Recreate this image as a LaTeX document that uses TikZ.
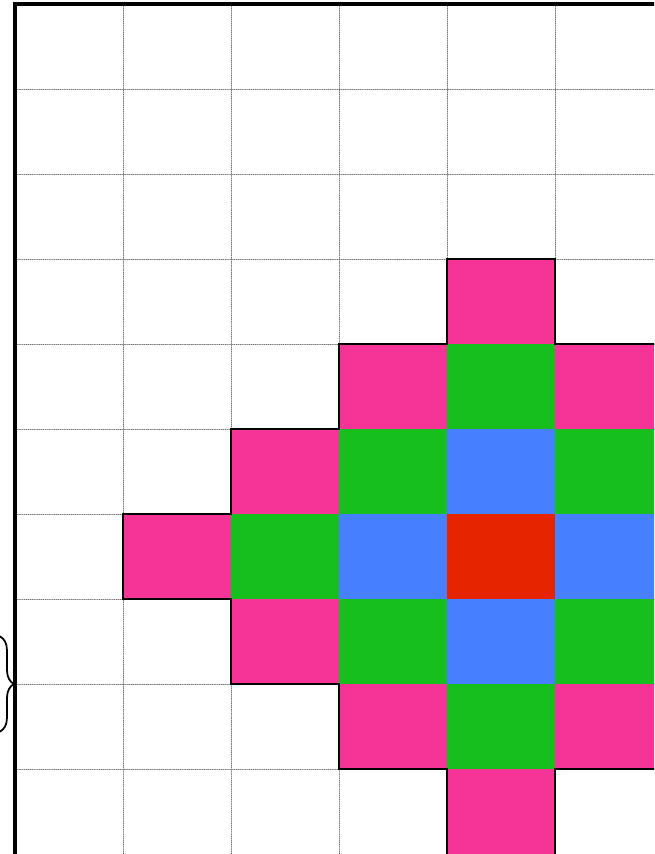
\documentclass[tikz,border=0pt]{standalone}
\usetikzlibrary{decorations.pathreplacing}
\begin{document}
\begin{tikzpicture}
% Diamond on a grid, cut off at the right and at the bottom
\def\cellw{3.24cm}
\def\cellh{2.55cm}
\providecommand{\gridLineColor}{black!55}
\providecommand{\gridLineWidth}{0.6pt}
\providecommand{\frameLineWidth}{2.7pt}
\providecommand{\outlineLineWidth}{1pt}
\begin{scope}[x=\cellw, y=\cellh, line cap=round, line join=round]
  \useasboundingbox (-0.1389,0) rectangle (5.9167,10.047);
  \clip (-0.1389,0) rectangle (5.9167,10.047);
  % Grid
  % Vertical lines
  \begin{scope}[draw=\gridLineColor, line width=\gridLineWidth, densely dotted]
    \draw (1,0) -- (1,10);
    \draw (2,0) -- (2,10);
    \draw (3,0) -- (3,10);
    \draw (4,0) -- (4,10);
    \draw (5,0) -- (5,10);
    \draw (6,0) -- (6,10);
  \end{scope}
  % Horizontal lines
  \begin{scope}[draw=\gridLineColor, line width=\gridLineWidth, densely dotted]
    \draw (0,1) -- (7,1);
    \draw (0,2) -- (7,2);
    \draw (0,3) -- (7,3);
    \draw (0,4) -- (7,4);
    \draw (0,5) -- (7,5);
    \draw (0,6) -- (7,6);
    \draw (0,7) -- (7,7);
    \draw (0,8) -- (7,8);
    \draw (0,9) -- (7,9);
  \end{scope}
  % Filled cells
  \begin{scope}[fill={rgb,255:red,246;green,51;blue,151}]
    \fill (4,6) rectangle ++(1,1);
    \fill (3,5) rectangle ++(1,1);
    \fill (5,5) rectangle ++(1,1);
    \fill (2,4) rectangle ++(1,1);
    \fill (6,4) rectangle ++(1,1);
    \fill (1,3) rectangle ++(1,1);
    \fill (7,3) rectangle ++(1,1);
    \fill (2,2) rectangle ++(1,1);
    \fill (6,2) rectangle ++(1,1);
    \fill (3,1) rectangle ++(1,1);
    \fill (5,1) rectangle ++(1,1);
    \fill (4,0) rectangle ++(1,1);
  \end{scope}
  \begin{scope}[fill={rgb,255:red,22;green,190;blue,30}]
    \fill (4,5) rectangle ++(1,1);
    \fill (3,4) rectangle ++(1,1);
    \fill (5,4) rectangle ++(1,1);
    \fill (2,3) rectangle ++(1,1);
    \fill (6,3) rectangle ++(1,1);
    \fill (3,2) rectangle ++(1,1);
    \fill (5,2) rectangle ++(1,1);
    \fill (4,1) rectangle ++(1,1);
  \end{scope}
  \begin{scope}[fill={rgb,255:red,70;green,127;blue,255}]
    \fill (4,4) rectangle ++(1,1);
    \fill (3,3) rectangle ++(1,1);
    \fill (5,3) rectangle ++(1,1);
    \fill (4,2) rectangle ++(1,1);
  \end{scope}
  \begin{scope}[fill={rgb,255:red,230;green,36;blue,0}]
    \fill (4,3) rectangle ++(1,1);
  \end{scope}
  % Outline of the coloured cells
  \draw[line width=\outlineLineWidth, line join=miter] (5,0) -- (5,1) -- (6,1) -- (6,2) -- (7,2) -- (7,3) -- (8,3)
    -- (8,4) -- (7,4) -- (7,5) -- (6,5) -- (6,6) -- (5,6) -- (5,7) -- (4,7) -- (4,6) -- (3,6)
    -- (3,5) -- (2,5) -- (2,4) -- (1,4) -- (1,3) -- (2,3) -- (2,2) -- (3,2) -- (3,1) -- (4,1) -- (4,0);
  % Frame
  \draw[line width=\frameLineWidth, line cap=butt, line join=miter] (0,0) -- (0,10) -- (7,10);
  % Brace
  \coordinate (braceTop) at (-0.139,2.56);
  \coordinate (braceBot) at (-0.139,1.44);
  \draw[decorate, decoration={brace, amplitude=0.42cm}, line width=1.5pt] (braceTop) -- (braceBot);
\end{scope}
\end{tikzpicture}
\end{document}
